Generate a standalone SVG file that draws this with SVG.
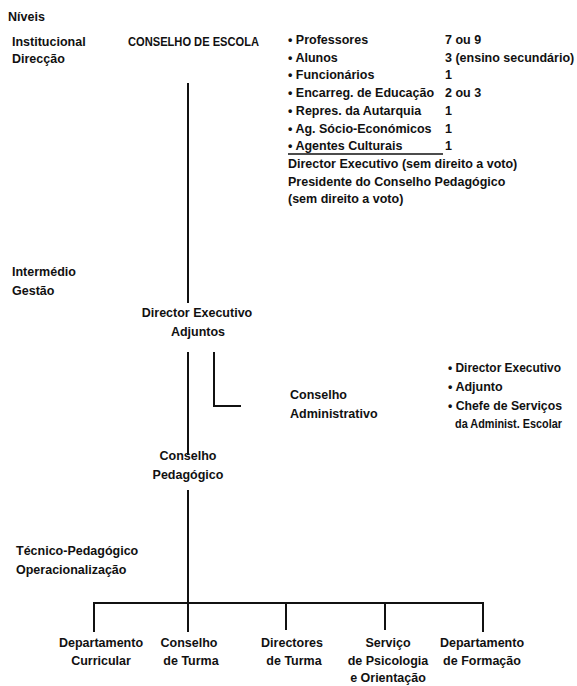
<svg xmlns="http://www.w3.org/2000/svg" width="577" height="686" viewBox="0 0 577 686">
<style>
text{font-family:"Liberation Sans",Arial,sans-serif;font-size:12.5px;font-weight:bold;fill:#111}
.m{text-anchor:middle}
.c{font-size:13.5px}
.ln{stroke:#111;stroke-width:2;fill:none}
</style>
<rect width="577" height="686" fill="#fff"/>
<g id="levels">
<text x="8" y="21">Níveis</text>
<text x="12" y="46">Institucional</text>
<text x="12" y="63">Direcção</text>
<text x="12" y="276">Intermédio</text>
<text x="12" y="295">Gestão</text>
<text x="16" y="555">Técnico-Pedagógico</text>
<text x="16" y="574">Operacionalização</text>
</g>
<g id="conselho-escola"><text x="128" y="46" class="c" textLength="131" lengthAdjust="spacingAndGlyphs">CONSELHO DE ESCOLA</text></g>
<g id="composicao">
<text x="288" y="44">• Professores</text><text x="445" y="44">7 ou 9</text>
<text x="288" y="61.7">• Alunos</text><text x="445" y="61.7">3 (ensino secundário)</text>
<text x="288" y="79.4">• Funcionários</text><text x="445" y="79.4">1</text>
<text x="288" y="97.1">• Encarreg. de Educação</text><text x="445" y="97.1">2 ou 3</text>
<text x="288" y="114.8">• Repres. da Autarquia</text><text x="445" y="114.8">1</text>
<text x="288" y="132.5">• Ag. Sócio-Económicos</text><text x="445" y="132.5">1</text>
<text x="288" y="150.2">• Agentes Culturais</text><text x="445" y="150.2">1</text>
<line x1="288" y1="154" x2="443" y2="154" stroke="#111" stroke-width="1.5"/>
<text x="288" y="168">Director Executivo (sem direito a voto)</text>
<text x="288" y="185.5">Presidente do Conselho Pedagógico</text>
<text x="288" y="203">(sem direito a voto)</text>
</g>
<g id="director"><text x="197" y="317" class="m">Director Executivo</text><text x="198" y="336" class="m">Adjuntos</text></g>
<g id="conselho-admin"><text x="290" y="399">Conselho</text><text x="290" y="418">Administrativo</text></g>
<g id="admin-membros">
<text x="448" y="372" textLength="113" lengthAdjust="spacingAndGlyphs">• Director Executivo</text>
<text x="448" y="391">• Adjunto</text>
<text x="448" y="410" textLength="114" lengthAdjust="spacingAndGlyphs">• Chefe de Serviços</text>
<text x="455" y="428" textLength="107" lengthAdjust="spacingAndGlyphs">da Administ. Escolar</text>
</g>
<g id="conselho-pedagogico"><text x="188" y="460" class="m">Conselho</text><text x="188" y="479" class="m">Pedagógico</text></g>
<g id="dep-curricular"><text x="101" y="647" class="m">Departamento</text><text x="101" y="665" class="m">Curricular</text></g>
<g id="conselho-turma"><text x="189" y="647" class="m">Conselho</text><text x="191" y="665" class="m">de Turma</text></g>
<g id="directores-turma"><text x="292" y="647" class="m">Directores</text><text x="294" y="665" class="m">de Turma</text></g>
<g id="servico-psicologia"><text x="388" y="647" class="m">Serviço</text><text x="388" y="665" class="m">de Psicologia</text><text x="388" y="682" class="m">e Orientação</text></g>
<g id="dep-formacao"><text x="482" y="647" class="m">Departamento</text><text x="482" y="665" class="m">de Formação</text></g>
<g id="connectors" class="ln">
<line x1="188" y1="83" x2="188" y2="303"/>
<line x1="188" y1="352" x2="188" y2="455"/>
<polyline points="214,352 214,406 241,406"/>
<line x1="188" y1="490" x2="188" y2="603"/>
<line x1="93" y1="603" x2="484" y2="603"/>
<line x1="94" y1="603" x2="94" y2="632"/>
<line x1="188" y1="603" x2="188" y2="632"/>
<line x1="286" y1="603" x2="286" y2="630"/>
<line x1="385" y1="603" x2="385" y2="630"/>
<line x1="483" y1="603" x2="483" y2="632"/>
</g>
</svg>
